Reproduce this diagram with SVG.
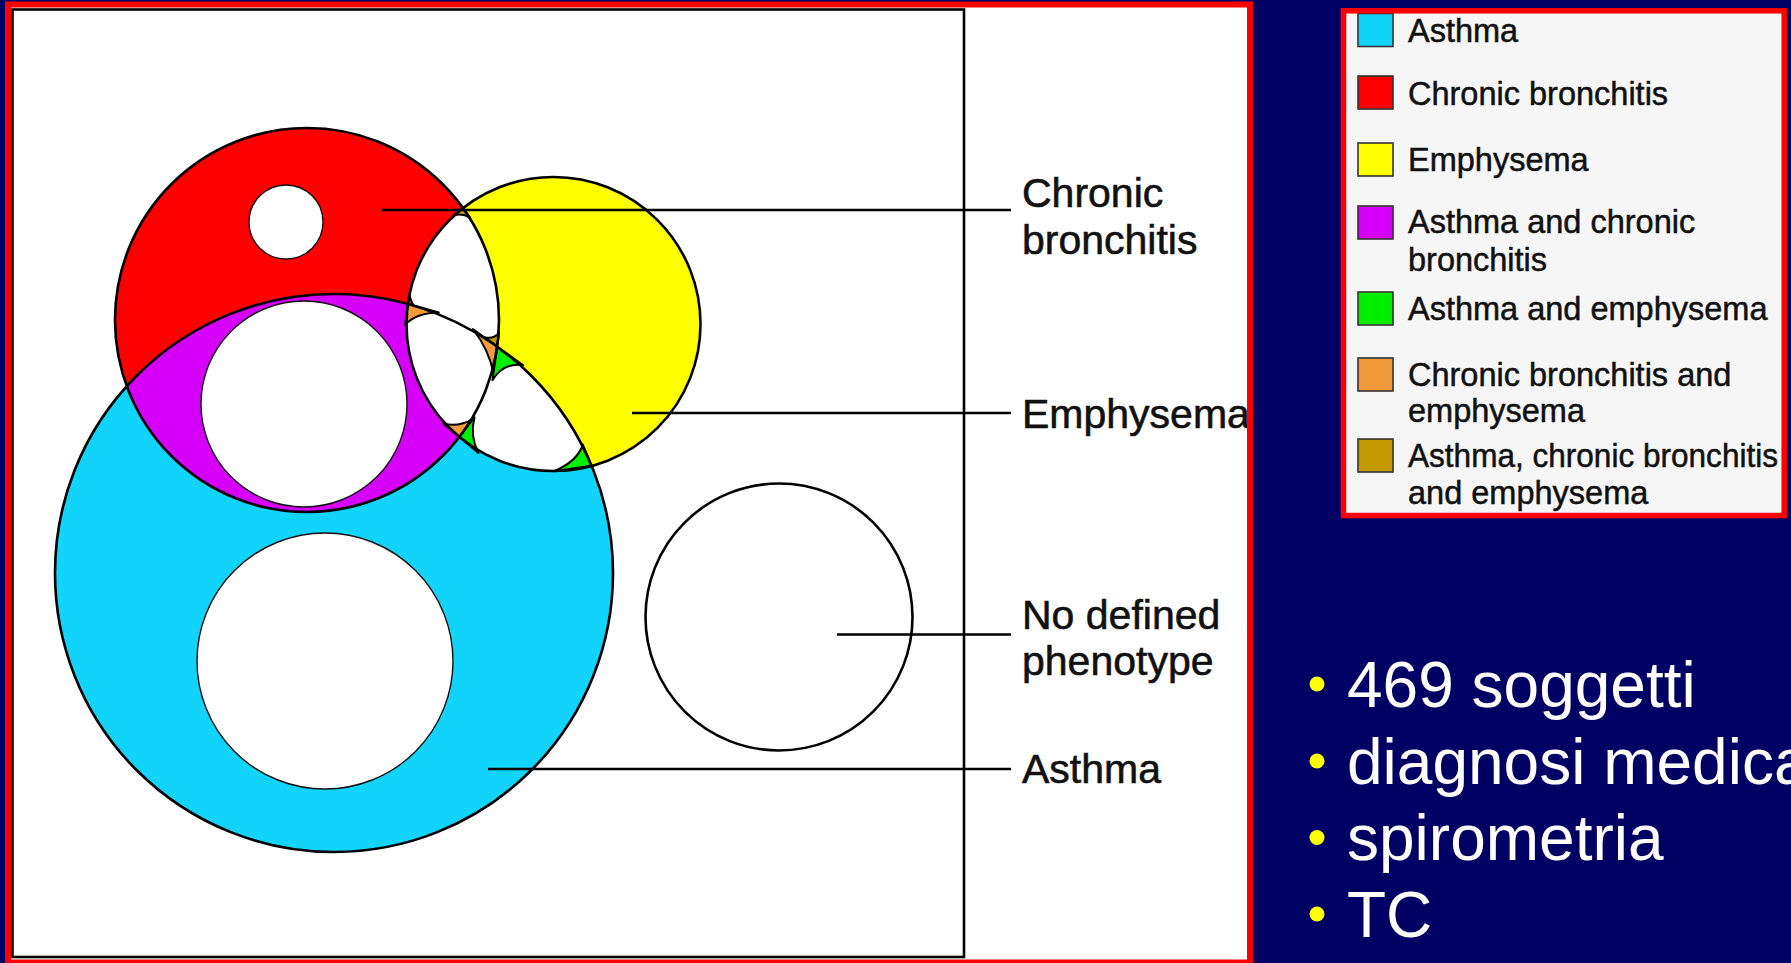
<svg xmlns="http://www.w3.org/2000/svg" width="1791" height="963" viewBox="0 0 1791 963">
<style>
.ol{fill:none;stroke:#000;stroke-width:2.6}
.hole{fill:#fff;stroke:#111;stroke-width:1.4}
.cn{stroke:#000;stroke-width:2.6;fill:none}
.lbl{font-family:"Liberation Sans",Arial,sans-serif;font-size:41px;fill:#111;stroke:#111;stroke-width:0.6}
.lg{font-family:"Liberation Sans",Arial,sans-serif;font-size:32.5px;fill:#111;stroke:#111;stroke-width:0.5}
.sw{stroke:#333;stroke-width:1.6}
.bt{font-family:"Liberation Sans",Arial,sans-serif;font-size:64px;fill:#fff}
.pt{stroke:#000;stroke-width:2;stroke-linejoin:round}
.gold{fill:#C49900}
.orange{fill:#F39A3C}
.green{fill:#00EE00}
</style>
<defs>
<clipPath id="cA"><circle cx="334" cy="573" r="279"/></clipPath>
<clipPath id="cR"><circle cx="307" cy="320" r="192"/></clipPath>
</defs>
<rect width="1791" height="963" fill="#000064"/>
<g id="panel">
<rect x="8" y="4.5" width="1242" height="960" fill="#fff"/>
<rect x="12.5" y="9.5" width="951.5" height="947.5" class="ol"/>
</g>
<g id="venn">
<g id="asthma"><circle cx="334" cy="573" r="279" fill="#12D4FA"/></g>
<g id="chronic-bronchitis"><circle cx="307" cy="320" r="192" fill="#FF0000"/></g>
<g id="emphysema"><circle cx="553.5" cy="324" r="147" fill="#FFFF00"/></g>
<g id="overlaps">
<circle cx="307" cy="320" r="192" fill="#D600FA" clip-path="url(#cA)"/>
<circle cx="553.5" cy="324" r="147" fill="#fff" clip-path="url(#cA)"/>
<circle cx="553.5" cy="324" r="147" fill="#fff" clip-path="url(#cR)"/>
<path class="pt gold" d="M463,208 L453.6,215.4 Q462.3,213.1 470,217.6 Z"/>
<path class="pt gold" d="M408,304 L409.5,293.1 Q410.2,301.2 414,305.6 Z"/>
<path class="pt gold" d="M497.2,346.5 L499.1,332.6 Q493.9,339.5 484.2,337.1 Z"/>
<path class="pt orange" d="M408,304 L405.1,324.8 Q416.4,312.8 438.8,312.5 Z"/>
<path class="pt orange" d="M497.2,346.5 L472.8,329 Q488.8,349.3 493.5,373.2 Z"/>
<path class="pt orange" d="M459.3,437 L473.3,418.8 Q458.7,427.5 443.2,423.5 Z"/>
<path class="pt green" d="M497.2,346.5 L523.2,365.2 Q503.6,362.2 492.5,380.2 Z"/>
<path class="pt green" d="M459.3,437 L474.5,417.2 Q469.6,435.9 478.5,453 Z"/>
<path class="pt green" d="M591.6,465.8 L582.8,444.6 Q577.7,461.1 554,471.2 Z"/>
</g>
<g id="holes">
<circle class="hole" cx="286" cy="222" r="37"/>
<circle class="hole" cx="304" cy="404" r="103"/>
<circle class="hole" cx="325" cy="661" r="128"/>
</g>
<g id="outlines">
<circle class="ol" cx="334" cy="573" r="279"/>
<circle class="ol" cx="307" cy="320" r="192"/>
<circle class="ol" cx="553.5" cy="324" r="147"/>
</g>
</g>
<g id="no-phenotype"><circle class="ol" cx="779" cy="617" r="133.5"/></g>
<g id="connectors">
<line class="cn" x1="382" y1="210" x2="1011" y2="210"/>
<line class="cn" x1="632" y1="413" x2="1011" y2="413"/>
<line class="cn" x1="837" y1="634.5" x2="1011" y2="634.5"/>
<line class="cn" x1="488" y1="769" x2="1011" y2="769"/>
</g>
<g id="labels">
<g id="label-cb"><text class="lbl" x="1022" y="207">Chronic</text><text class="lbl" x="1022" y="254">bronchitis</text></g>
<g id="label-emph"><text class="lbl" x="1022" y="428">Emphysema</text></g>
<g id="label-none"><text class="lbl" x="1022" y="629">No defined</text><text class="lbl" x="1022" y="675">phenotype</text></g>
<g id="label-asthma"><text class="lbl" x="1022" y="783">Asthma</text></g>
</g>
<rect id="panel-border" x="8" y="4.5" width="1242" height="958" fill="none" stroke="#FF0000" stroke-width="6"/>
<g id="legend">
<rect x="1343.5" y="10.8" width="440.7" height="504.7" fill="#F6F6F6"/>
<rect class="sw" x="1358" y="13.5" width="35" height="33" fill="#12D4FA"/>
<rect class="sw" x="1358" y="76" width="35" height="33" fill="#FF0000"/>
<rect class="sw" x="1358" y="143" width="35" height="33" fill="#FFFF00"/>
<rect class="sw" x="1358" y="206" width="35" height="33" fill="#D600FA"/>
<rect class="sw" x="1358" y="292" width="35" height="33" fill="#00EE00"/>
<rect class="sw" x="1358" y="358" width="35" height="33" fill="#F39A3C"/>
<rect class="sw" x="1358" y="439" width="35" height="33" fill="#C49900"/>
<text class="lg" x="1408" y="42">Asthma</text>
<text class="lg" x="1408" y="104.5">Chronic bronchitis</text>
<text class="lg" x="1408" y="171">Emphysema</text>
<text class="lg" x="1408" y="233">Asthma and chronic</text>
<text class="lg" x="1408" y="271">bronchitis</text>
<text class="lg" x="1408" y="320">Asthma and emphysema</text>
<text class="lg" x="1408" y="386">Chronic bronchitis and</text>
<text class="lg" x="1408" y="422">emphysema</text>
<text class="lg" x="1408" y="467" textLength="370" lengthAdjust="spacingAndGlyphs">Asthma, chronic bronchitis</text>
<text class="lg" x="1408" y="503.5">and emphysema</text>
<rect x="1343.5" y="10.8" width="440.7" height="504.7" fill="none" stroke="#FF0000" stroke-width="5.5"/>
</g>
<g id="bullets">
<circle cx="1317" cy="684" r="7.5" fill="#FFFF00"/>
<circle cx="1317" cy="761" r="7.5" fill="#FFFF00"/>
<circle cx="1317" cy="837.5" r="7.5" fill="#FFFF00"/>
<circle cx="1317" cy="914" r="7.5" fill="#FFFF00"/>
<text class="bt" x="1347" y="707">469 soggetti</text>
<text class="bt" x="1347" y="783.5">diagnosi medica</text>
<text class="bt" x="1347" y="860">spirometria</text>
<text class="bt" x="1347" y="936.5">TC</text>
</g>
</svg>
